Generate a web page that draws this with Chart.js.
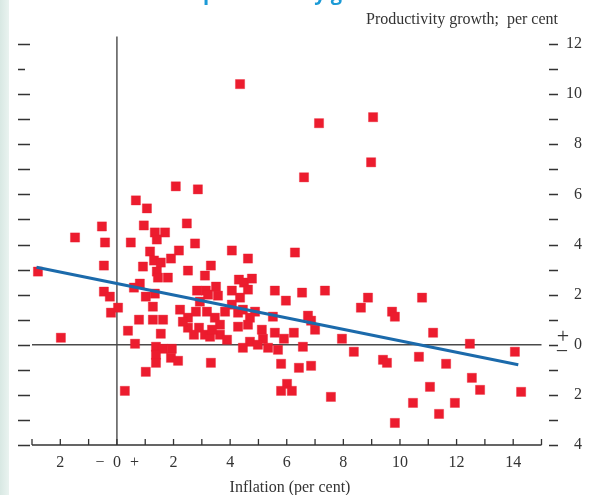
<!DOCTYPE html>
<html><head><meta charset="utf-8">
<script src="https://cdn.jsdelivr.net/npm/chart.js@4/dist/chart.umd.min.js"></script>
<style>html,body{margin:0;padding:0;background:#fff;}#wrap{position:relative;width:610px;height:495px;}</style>
</head><body><div id="wrap"><canvas id="c" width="610" height="495"></canvas></div>
<script>
const inflation = [
  4.35, 9.05, 7.14, 8.98, 6.61, 6.29, 2.08, 2.86, 0.67, 1.06,
  0.95, 2.47, 1.34, 1.70, 1.41, 0.49, 2.76, 1.17, 2.19, 1.91,
  1.31, 1.55, 0.92, 1.41, 2.51, 3.32, 3.11, 1.45, 1.80, 0.81,
  0.60, 2.83, 3.14, -2.79, -1.98, -1.48, -0.53, -0.42, -0.46, -0.46,
  -0.25, -0.21, 0.04, 4.06, 4.63, 4.31, 4.49, 4.77, 3.50, 4.06,
  4.63, 5.58, 6.54, 7.35, 5.97, 1.02, 1.34, 1.27, 0.78, 1.27,
  1.63, 0.39, 1.55, 0.64, 2.23, 2.51, 2.51, 2.90, 2.72, 3.11,
  3.22, 3.57, 2.93, 4.35, 4.06, 4.28, 4.45, 4.88, 4.70, 4.63,
  4.28, 5.12, 5.51, 5.58, 5.90, 6.75, 6.86, 7.00, 6.25, 5.16,
  4.70, 4.98, 4.45, 5.34, 5.69, 6.57, 3.29, 3.64, 3.89, 3.18,
  3.46, 3.64, 3.36, 3.82, 2.79, 2.33, 1.38, 1.63, 1.94, 1.38,
  1.91, 2.16, 1.38, 1.02, 0.28, 3.32, 5.80, 6.43, 6.86, 6.01,
  5.80, 6.18, 7.56, 8.87, 10.78, 8.62, 9.72, 9.82, 7.95, 8.37,
  9.40, 9.54, 10.67, 11.17, 12.47, 14.06, 11.63, 12.54, 12.83, 11.06,
  14.28, 10.46, 11.94, 11.38, 9.82
];
const productivity = [
  10.4, 9.08, 8.84, 7.28, 6.68, 3.68, 6.32, 6.2, 5.76, 5.44,
  4.76, 4.84, 4.48, 4.48, 4.2, 4.08, 4.04, 3.72, 3.76, 3.44,
  3.36, 3.28, 3.12, 2.92, 2.96, 3.16, 2.76, 2.68, 2.68, 2.44,
  2.28, 2.16, 2.16, 2.92, 0.28, 4.28, 4.72, 4.08, 3.16, 2.12,
  1.92, 1.28, 1.48, 3.76, 3.44, 2.6, 2.48, 2.64, 2.32, 2.16,
  2.2, 2.16, 2.08, 2.16, 1.76, 1.92, 2.04, 1.52, 1.0, 1.0,
  1.0, 0.56, 0.44, 0.04, 1.4, 1.08, 0.68, 0.68, 0.4, 0.4,
  2.0, 1.96, 1.72, 1.88, 1.6, 1.28, 1.4, 1.32, 1.08, 0.8,
  0.72, 0.6, 1.12, 0.48, 0.24, 1.16, 0.96, 0.6, 0.48, 0.24,
  0.12, 0.0, -0.12, -0.12, -0.2, -0.08, 0.32, 0.4, 0.2, 1.32,
  1.08, 0.8, 0.6, 1.32, 1.32, 0.92, -0.08, -0.16, -0.16, -0.4,
  -0.52, -0.64, -0.72, -1.08, -1.84, -0.72, -0.76, -0.92, -0.84, -1.56,
  -1.84, -1.84, -2.08, 1.88, 1.88, 1.48, 1.32, 1.12, 0.24, -0.28,
  -0.6, -0.72, -0.48, 0.48, 0.04, -0.28, -0.76, -1.32, -1.8, -1.68,
  -1.88, -2.32, -2.32, -2.76, -3.12
];
const fitX = [-2.84, 14.18];
const fitY = [3.09, -0.80];
const xTickValues = [-2, 0, 2, 4, 6, 8, 10, 12, 14];
const xTickLabels = ['2', '0', '2', '4', '6', '8', '10', '12', '14'];
const yTickValues = [12, 10, 8, 6, 4, 2, 0, -2, -4];
const yTickLabels = ['12', '10', '8', '6', '4', '2', '0', '2', '4'];
const xTitle = 'Inflation (per cent)';
const yTitle = 'Productivity growth;  per cent';
const headline = 'Inflation and productivity growth';

const SERIF = '16px "Liberation Serif", "DejaVu Serif", serif';
const SIGN = '22px "Liberation Serif", "DejaVu Serif", serif';
const INK = '#333333';

const deco = {
  id: 'deco',
  beforeDraw(chart) {
    const ctx = chart.ctx;
    ctx.save();
    ctx.fillStyle = '#ffffff';
    ctx.fillRect(0, 0, chart.width, chart.height);
    const g = ctx.createLinearGradient(0, 0, 9, 0);
    g.addColorStop(0, '#d8e8e3');
    g.addColorStop(1, '#eaf3f0');
    ctx.fillStyle = g;
    ctx.fillRect(0, 0, 9, chart.height);
    ctx.font = 'bold 20px "Open Sans", sans-serif';
    ctx.fillStyle = '#1b9ad6';
    ctx.textBaseline = 'alphabetic';
    const pre = ctx.measureText('Inflation and ').width;
    ctx.fillText(headline, 203 - pre, -0.5);
    ctx.restore();
  },
  beforeDatasetsDraw(chart) {
    const ctx = chart.ctx, xs = chart.scales.x, ys = chart.scales.y;
    ctx.save();
    ctx.strokeStyle = '#4a4a4a';
    ctx.lineWidth = 1.4;
    ctx.beginPath();
    ctx.moveTo(xs.getPixelForValue(0), ys.getPixelForValue(12.3));
    ctx.lineTo(xs.getPixelForValue(0), ys.getPixelForValue(-4));
    ctx.moveTo(xs.getPixelForValue(-3), ys.getPixelForValue(0));
    ctx.lineTo(xs.getPixelForValue(15), ys.getPixelForValue(0));
    ctx.stroke();
    ctx.strokeStyle = '#333';
    ctx.lineWidth = 1.3;
    ctx.beginPath();
    const yb = ys.getPixelForValue(-4);
    ctx.moveTo(xs.getPixelForValue(-3), yb);
    ctx.lineTo(xs.getPixelForValue(15), yb);
    for (let v = -3; v <= 15; v++) {
      const px = xs.getPixelForValue(v);
      ctx.moveTo(px, yb);
      ctx.lineTo(px, yb - 6);
    }
    ctx.stroke();
    ctx.restore();
  },
  afterDraw(chart) {
    const ctx = chart.ctx, xs = chart.scales.x, ys = chart.scales.y;
    ctx.save();
    ctx.strokeStyle = INK;
    ctx.lineWidth = 1.6;
    ctx.beginPath();
    for (let v = -4; v <= 12; v++) {
      const py = Math.round(ys.getPixelForValue(v)) + 0.5;
      ctx.moveTo(18, py); ctx.lineTo(v === 11 ? 25 : 30, py);
      ctx.moveTo(549, py); ctx.lineTo(558, py);
    }
    ctx.stroke();
    ctx.fillStyle = INK;
    ctx.font = SERIF;
    ctx.textBaseline = 'middle';
    ctx.textAlign = 'right';
    yTickValues.forEach((v, i) => ctx.fillText(yTickLabels[i], 582, ys.getPixelForValue(v)));
    ctx.textAlign = 'center';
    xTickValues.forEach((v, i) => ctx.fillText(xTickLabels[i], xs.getPixelForValue(v), 463));
    ctx.fillText(xTitle, 290, 488);
    ctx.textAlign = 'right';
    ctx.fillText(yTitle, 558, 20);
    ctx.font = SIGN;
    ctx.textAlign = 'center';
    ctx.fillText('+', 563, ys.getPixelForValue(0) - 8);
    ctx.fillText('\u2212', 562, ys.getPixelForValue(0) + 7);
    ctx.font = SERIF;
    ctx.fillText('\u2212', xs.getPixelForValue(-0.6), 463);
    ctx.fillText('+', xs.getPixelForValue(0.62), 463);
    ctx.restore();
  }
};

new Chart(document.getElementById('c'), {
  type: 'scatter',
  data: {
    datasets: [
      {
        type: 'line',
        data: fitX.map((x, i) => ({ x: x, y: fitY[i] })),
        borderColor: '#1b6aab',
        borderWidth: 3,
        pointRadius: 0,
        fill: false,
        order: 0,
        clip: false
      },
      {
        data: inflation.map((x, i) => ({ x: x, y: productivity[i] })),
        pointStyle: 'rect',
        pointRadius: 6.5,
        backgroundColor: '#ec1c2e',
        borderColor: 'rgba(236,28,46,0.35)',
        borderWidth: 1,
        order: 1,
        clip: false
      }
    ]
  },
  options: {
    responsive: false,
    animation: false,
    devicePixelRatio: 1,
    layout: { padding: { left: 32, right: 68.5, top: 44, bottom: 50 } },
    scales: {
      x: { type: 'linear', min: -3, max: 15, display: false },
      y: { type: 'linear', min: -4, max: 12, display: false }
    },
    plugins: { legend: { display: false }, tooltip: { enabled: false } },
    events: []
  },
  plugins: [deco]
});
</script>
</body></html>
